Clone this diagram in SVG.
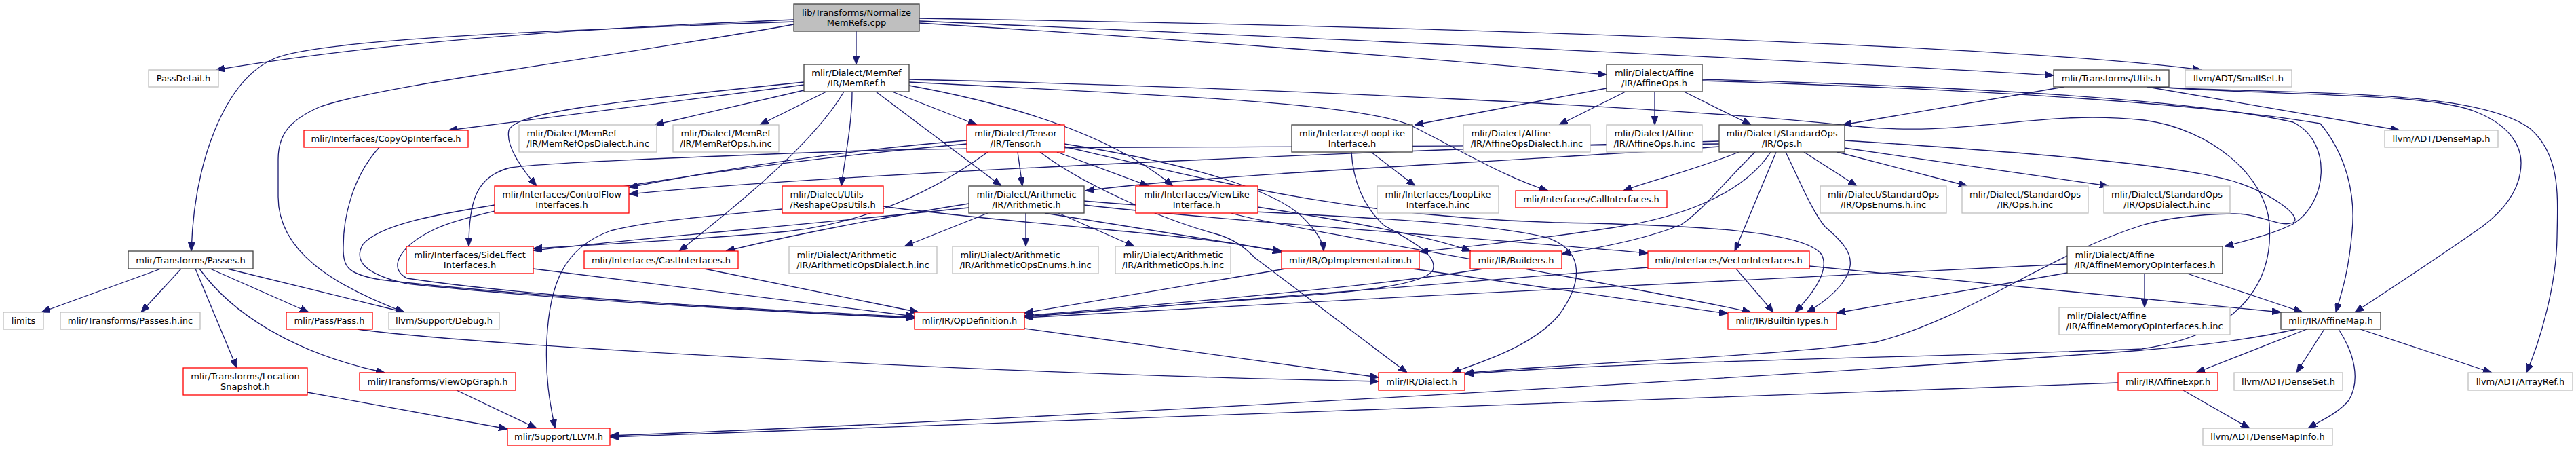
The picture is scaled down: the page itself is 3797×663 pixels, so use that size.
<svg xmlns="http://www.w3.org/2000/svg" width="3797" height="663" viewBox="0 0 3797 663">
<style>
rect{stroke-width:1.3;fill:#fff}
.g rect{stroke:#bfbfbf}
.b rect{stroke:#404040}
.r rect{stroke:#ff0000}
.t rect{stroke:#404040;fill:#bfbfbf}
text{font-family:"DejaVu Sans","Liberation Sans",sans-serif;font-size:13px;fill:#000;text-anchor:middle}
text.s{text-anchor:start}
#edges path{fill:none;stroke:#191970;stroke-width:1.3;marker-end:url(#a)}
</style>
<defs>
<marker id="a" markerUnits="userSpaceOnUse" markerWidth="13" markerHeight="10" refX="13" refY="5" orient="auto"><path d="M0,0 L13,5 L0,10 z" fill="#191970" stroke="#191970" stroke-width="1"/></marker>
</defs>
<rect x="0" y="0" width="3797" height="663" fill="#fff" stroke="none"/>
<g id="edges">
<path d="M1170,29 C950,38 600,55 318,103"/>
<path d="M1170,32 C800,45 470,58 405,86 C330,118 286,240 282,370"/>
<path d="M1170,36 C900,85 560,125 470,158 C425,178 410,200 410,235 L410,290 C410,370 490,420 596,460"/>
<path d="M1262,46 L1262,95"/>
<path d="M1355,34 C1700,55 2100,85 2368,110"/>
<path d="M1355,31 C1900,55 2600,85 3027,111"/>
<path d="M1355,27 C2200,40 3000,70 3245,103"/>
<path d="M237,396 L61,460"/>
<path d="M267,396 L208,460"/>
<path d="M288,396 L349,542"/>
<path d="M294,396 C340,460 430,520 567,549"/>
<path d="M310,396 L455,460"/>
<path d="M335,396 L596,460"/>
<path d="M453,578 L748,632"/>
<path d="M673,575 L791,631"/>
<path d="M527,485 C700,510 1500,552 2032,562"/>
<path d="M1185,125 L661,192"/>
<path d="M1185,121 C900,150 760,165 750,192 C745,215 770,250 791,274"/>
<path d="M1185,133 L965,184"/>
<path d="M1218,135 L1120,184"/>
<path d="M1256,135 C1256,180 1246,230 1240,274"/>
<path d="M1244,135 C1200,210 1090,300 1001,370"/>
<path d="M1291,135 L1476,274"/>
<path d="M1315,135 L1440,184"/>
<path d="M1340,126 C1500,155 1640,200 1729,274"/>
<path d="M1340,121 C1700,140 2000,150 2080,185 C2150,220 2220,262 2282,281"/>
<path d="M1340,117 C1900,130 2500,160 2724,185 C2900,205 3000,160 3160,177 C3260,190 3340,260 3345,330 C3350,400 3320,490 3157,514 C2900,525 2400,532 2159,551"/>
<path d="M1500,224 L1507,274"/>
<path d="M1558,224 L1693,274"/>
<path d="M1533,224 C1600,275 1720,325 1790,344 C1820,352 1835,365 1850,380 L2074,549"/>
<path d="M1425,207 C1200,225 1000,262 927,276"/>
<path d="M1456,224 C1400,265 1300,325 1160,341 C1000,355 850,362 786,366"/>
<path d="M1569,212 C1750,240 1880,280 1920,320 C1940,340 1950,355 1951,370"/>
<path d="M1569,216 C1800,270 2000,320 2300,328 C2500,332 2660,340 2685,375 C2698,400 2670,435 2646,460"/>
<path d="M1425,212 C1100,240 720,300 640,338 C590,362 570,395 600,410 C800,440 1200,462 1348,468"/>
<path d="M1456,314 L1333,363"/>
<path d="M1512,314 L1512,363"/>
<path d="M1560,314 L1672,363"/>
<path d="M1540,314 L1889,370"/>
<path d="M1428,300 C1300,320 1150,350 1070,370"/>
<path d="M1428,306 C1200,330 900,355 786,369"/>
<path d="M1598,302 C1800,325 2200,352 2429,373"/>
<path d="M1598,296 C1800,315 2150,318 2280,350 C2340,370 2330,420 2298,464 C2260,510 2180,535 2140,549"/>
<path d="M2534,216 C2200,240 1800,255 1600,281"/>
<path d="M2534,208 C2000,222 1200,258 927,286"/>
<path d="M2534,212 C2000,218 1500,215 1270,222 C1000,232 800,240 752,247 C700,260 691,300 691,363"/>
<path d="M2563,224 C2500,250 2420,270 2393,281"/>
<path d="M2587,224 C2540,270 2510,310 2478,331 C2420,355 2340,368 2302,374"/>
<path d="M2610,224 C2570,285 2480,320 2380,335 C2250,355 2150,365 2092,371"/>
<path d="M2618,224 L2557,370"/>
<path d="M2632,224 C2650,260 2670,310 2690,334 C2715,355 2730,372 2727,392 C2722,420 2690,445 2663,460"/>
<path d="M2659,224 L2737,274"/>
<path d="M2708,224 L2900,274"/>
<path d="M2719,218 L3108,274"/>
<path d="M2719,207 C2950,222 3200,240 3292,267 C3350,285 3395,320 3380,328 C3360,336 3330,314 3292,315 C3230,316 3190,322 3157,332 C3020,375 2900,470 2765,504 C2600,527 2300,535 2159,550"/>
<path d="M2368,130 L2085,184"/>
<path d="M2396,135 L2298,184"/>
<path d="M2439,135 L2439,184"/>
<path d="M2482,135 L2581,184"/>
<path d="M2509,117 C2800,125 3200,140 3380,180 C3440,210 3430,300 3380,330 C3350,345 3310,355 3279,363"/>
<path d="M2509,119 C2800,128 3200,145 3420,182 C3460,230 3472,290 3467,340 C3462,400 3452,430 3443,460"/>
<path d="M3042,128 L2716,184"/>
<path d="M3165,128 L3537,192"/>
<path d="M3165,127 C3350,142 3580,135 3650,165 C3700,185 3716,215 3716,240 C3716,280 3690,310 3660,333 C3600,375 3520,428 3471,460"/>
<path d="M3170,128 C3400,140 3650,130 3730,190 C3775,230 3770,290 3769,350 C3768,420 3745,500 3724,549"/>
<path d="M3161,403 L3161,453"/>
<path d="M3224,403 L3394,460"/>
<path d="M3047,402 L2707,461"/>
<path d="M3047,389 C2700,405 2000,440 1510,468"/>
<path d="M3400,485 L3237,549"/>
<path d="M3426,485 L3385,549"/>
<path d="M3447,485 C3470,520 3480,560 3462,590 C3445,610 3420,620 3402,631"/>
<path d="M3479,485 L3673,549"/>
<path d="M3385,485 C3290,506 3200,512 3157,516 C2700,550 1600,615 899,642"/>
<path d="M3218,575 L3316,631"/>
<path d="M3122,564 C2600,585 1500,620 899,644"/>
<path d="M729,302 C650,315 560,330 535,360 C520,385 540,405 600,418 C850,445 1200,462 1348,469"/>
<path d="M559,217 C520,260 505,320 506,370 C507,395 515,404 560,412 C800,440 1200,460 1348,467"/>
<path d="M786,396 L1348,466"/>
<path d="M1038,396 L1354,460"/>
<path d="M1153,308 C1050,318 960,325 900,340 C830,365 810,420 806,500 C803,560 812,600 818,631"/>
<path d="M1302,304 C1400,318 1600,335 1700,345 C1800,355 1860,365 1889,372"/>
<path d="M1895,396 L1510,461"/>
<path d="M2082,396 L2547,462"/>
<path d="M2186,396 C2050,420 1700,450 1510,465"/>
<path d="M2559,396 L2614,460"/>
<path d="M2667,392 L3362,460"/>
<path d="M2429,394 L1510,467"/>
<path d="M1854,305 C1950,320 2100,345 2168,370"/>
<path d="M1815,314 C1860,330 2400,420 2581,460"/>
<path d="M2021,224 L2086,274"/>
<path d="M1992,224 C1994,265 2010,305 2040,332 C2080,355 2120,375 2112,398 C2100,420 2000,430 1890,438 L1510,466"/>
<path d="M1510,484 C1700,510 1900,537 2032,556"/>
</g>
<g id="nodes">
<g id="n0" class="t"><rect x="1170" y="6" width="185" height="40"/><text x="1262.5" y="22.5">lib/Transforms/Normalize</text><text x="1262.5" y="37.5">MemRefs.cpp</text></g>
<g id="n1" class="g"><rect x="219" y="103" width="103" height="25"/><text x="270.5" y="120">PassDetail.h</text></g>
<g id="n2" class="b"><rect x="189" y="370" width="184" height="26"/><text x="281" y="387.5">mlir/Transforms/Passes.h</text></g>
<g id="n3" class="b"><rect x="1185" y="95" width="155" height="40"/><text x="1262.5" y="111.5">mlir/Dialect/MemRef</text><text x="1262.5" y="126.5">/IR/MemRef.h</text></g>
<g id="n4" class="b"><rect x="2368" y="95" width="141" height="40"/><text x="2438.5" y="111.5">mlir/Dialect/Affine</text><text x="2438.5" y="126.5">/IR/AffineOps.h</text></g>
<g id="n5" class="b"><rect x="3027" y="103" width="170" height="25"/><text x="3112" y="120">mlir/Transforms/Utils.h</text></g>
<g id="n6" class="g"><rect x="3221" y="103" width="157" height="25"/><text x="3299.5" y="120">llvm/ADT/SmallSet.h</text></g>
<g id="n7" class="g"><rect x="573" y="460" width="163" height="25"/><text x="654.5" y="477">llvm/Support/Debug.h</text></g>
<g id="n8" class="r"><rect x="448" y="192" width="242" height="25"/><text x="569" y="209">mlir/Interfaces/CopyOpInterface.h</text></g>
<g id="n9" class="g"><rect x="765" y="184" width="203" height="40"/><text class="s" x="776.5" y="200.5">mlir/Dialect/MemRef</text><text x="866.5" y="215.5">/IR/MemRefOpsDialect.h.inc</text></g>
<g id="n10" class="g"><rect x="992" y="184" width="156" height="40"/><text class="s" x="1003.5" y="200.5">mlir/Dialect/MemRef</text><text x="1070" y="215.5">/IR/MemRefOps.h.inc</text></g>
<g id="n11" class="r"><rect x="1425" y="184" width="144" height="40"/><text x="1497" y="200.5">mlir/Dialect/Tensor</text><text x="1497" y="215.5">/IR/Tensor.h</text></g>
<g id="n12" class="b"><rect x="1904" y="184" width="178" height="40"/><text x="1993" y="200.5">mlir/Interfaces/LoopLike</text><text x="1993" y="215.5">Interface.h</text></g>
<g id="n13" class="g"><rect x="2157" y="184" width="187" height="40"/><text class="s" x="2168.5" y="200.5">mlir/Dialect/Affine</text><text x="2250.5" y="215.5">/IR/AffineOpsDialect.h.inc</text></g>
<g id="n14" class="g"><rect x="2368" y="184" width="141" height="40"/><text class="s" x="2379.5" y="200.5">mlir/Dialect/Affine</text><text x="2438.5" y="215.5">/IR/AffineOps.h.inc</text></g>
<g id="n15" class="b"><rect x="2534" y="184" width="185" height="40"/><text x="2626.5" y="200.5">mlir/Dialect/StandardOps</text><text x="2626.5" y="215.5">/IR/Ops.h</text></g>
<g id="n16" class="g"><rect x="3515" y="192" width="167" height="25"/><text x="3598.5" y="209">llvm/ADT/DenseMap.h</text></g>
<g id="n17" class="r"><rect x="729" y="274" width="198" height="40"/><text x="828" y="290.5">mlir/Interfaces/ControlFlow</text><text x="828" y="305.5">Interfaces.h</text></g>
<g id="n18" class="r"><rect x="1153" y="274" width="149" height="40"/><text class="s" x="1164.5" y="290.5">mlir/Dialect/Utils</text><text x="1227.5" y="305.5">/ReshapeOpsUtils.h</text></g>
<g id="n19" class="b"><rect x="1428" y="274" width="170" height="40"/><text x="1513" y="290.5">mlir/Dialect/Arithmetic</text><text x="1513" y="305.5">/IR/Arithmetic.h</text></g>
<g id="n20" class="r"><rect x="1674" y="274" width="180" height="40"/><text x="1764" y="290.5">mlir/Interfaces/ViewLike</text><text x="1764" y="305.5">Interface.h</text></g>
<g id="n21" class="g"><rect x="2030" y="274" width="179" height="40"/><text x="2119.5" y="290.5">mlir/Interfaces/LoopLike</text><text x="2119.5" y="305.5">Interface.h.inc</text></g>
<g id="n22" class="r"><rect x="2234" y="281" width="223" height="25"/><text x="2345.5" y="298">mlir/Interfaces/CallInterfaces.h</text></g>
<g id="n23" class="g"><rect x="2683" y="274" width="186" height="40"/><text x="2776" y="290.5">mlir/Dialect/StandardOps</text><text x="2776" y="305.5">/IR/OpsEnums.h.inc</text></g>
<g id="n24" class="g"><rect x="2892" y="274" width="186" height="40"/><text x="2985" y="290.5">mlir/Dialect/StandardOps</text><text x="2985" y="305.5">/IR/Ops.h.inc</text></g>
<g id="n25" class="g"><rect x="3101" y="274" width="186" height="40"/><text x="3194" y="290.5">mlir/Dialect/StandardOps</text><text x="3194" y="305.5">/IR/OpsDialect.h.inc</text></g>
<g id="n26" class="r"><rect x="599" y="363" width="187" height="40"/><text x="692.5" y="379.5">mlir/Interfaces/SideEffect</text><text x="692.5" y="394.5">Interfaces.h</text></g>
<g id="n27" class="r"><rect x="861" y="370" width="227" height="26"/><text x="974.5" y="387.5">mlir/Interfaces/CastInterfaces.h</text></g>
<g id="n28" class="g"><rect x="1163" y="363" width="218" height="40"/><text class="s" x="1174.5" y="379.5">mlir/Dialect/Arithmetic</text><text x="1272" y="394.5">/IR/ArithmeticOpsDialect.h.inc</text></g>
<g id="n29" class="g"><rect x="1404" y="363" width="215" height="40"/><text class="s" x="1415.5" y="379.5">mlir/Dialect/Arithmetic</text><text x="1511.5" y="394.5">/IR/ArithmeticOpsEnums.h.inc</text></g>
<g id="n30" class="g"><rect x="1644" y="363" width="170" height="40"/><text class="s" x="1655.5" y="379.5">mlir/Dialect/Arithmetic</text><text x="1729" y="394.5">/IR/ArithmeticOps.h.inc</text></g>
<g id="n31" class="r"><rect x="1889" y="370" width="203" height="26"/><text x="1990.5" y="387.5">mlir/IR/OpImplementation.h</text></g>
<g id="n32" class="r"><rect x="2167" y="370" width="135" height="26"/><text x="2234.5" y="387.5">mlir/IR/Builders.h</text></g>
<g id="n33" class="r"><rect x="2429" y="370" width="238" height="26"/><text x="2548" y="387.5">mlir/Interfaces/VectorInterfaces.h</text></g>
<g id="n34" class="b"><rect x="3047" y="363" width="229" height="40"/><text class="s" x="3058.5" y="379.5">mlir/Dialect/Affine</text><text x="3161.5" y="394.5">/IR/AffineMemoryOpInterfaces.h</text></g>
<g id="n35" class="g"><rect x="5" y="460" width="59" height="25"/><text x="34.5" y="477">limits</text></g>
<g id="n36" class="g"><rect x="89" y="460" width="206" height="25"/><text x="192" y="477">mlir/Transforms/Passes.h.inc</text></g>
<g id="n37" class="r"><rect x="422" y="460" width="127" height="25"/><text x="485.5" y="477">mlir/Pass/Pass.h</text></g>
<g id="n38" class="r"><rect x="1348" y="460" width="162" height="25"/><text x="1429" y="477">mlir/IR/OpDefinition.h</text></g>
<g id="n39" class="r"><rect x="2547" y="460" width="160" height="25"/><text x="2627" y="477">mlir/IR/BuiltinTypes.h</text></g>
<g id="n40" class="g"><rect x="3035" y="453" width="252" height="40"/><text class="s" x="3046.5" y="469.5">mlir/Dialect/Affine</text><text x="3161" y="484.5">/IR/AffineMemoryOpInterfaces.h.inc</text></g>
<g id="n41" class="b"><rect x="3362" y="460" width="147" height="25"/><text x="3435.5" y="477">mlir/IR/AffineMap.h</text></g>
<g id="n42" class="r"><rect x="270" y="542" width="183" height="40"/><text x="361.5" y="558.5">mlir/Transforms/Location</text><text x="361.5" y="573.5">Snapshot.h</text></g>
<g id="n43" class="r"><rect x="530" y="549" width="230" height="26"/><text x="645" y="566.5">mlir/Transforms/ViewOpGraph.h</text></g>
<g id="n44" class="r"><rect x="2032" y="549" width="127" height="26"/><text x="2095.5" y="566.5">mlir/IR/Dialect.h</text></g>
<g id="n45" class="r"><rect x="3122" y="549" width="147" height="26"/><text x="3195.5" y="566.5">mlir/IR/AffineExpr.h</text></g>
<g id="n46" class="g"><rect x="3293" y="549" width="160" height="26"/><text x="3373" y="566.5">llvm/ADT/DenseSet.h</text></g>
<g id="n47" class="g"><rect x="3638" y="549" width="154" height="26"/><text x="3715" y="566.5">llvm/ADT/ArrayRef.h</text></g>
<g id="n48" class="r"><rect x="748" y="631" width="151" height="25"/><text x="823.5" y="648">mlir/Support/LLVM.h</text></g>
<g id="n49" class="g"><rect x="3247" y="631" width="191" height="25"/><text x="3342.5" y="648">llvm/ADT/DenseMapInfo.h</text></g>
</g>
</svg>
